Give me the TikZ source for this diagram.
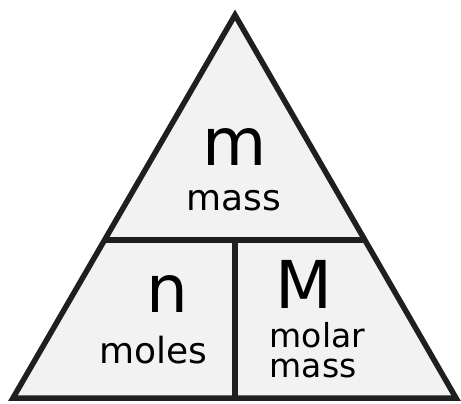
\documentclass[tikz,border=0pt]{standalone}
\usepackage{fontspec}
\setmainfont{DejaVu Sans}
\usetikzlibrary{calc}
\tikzset{
  big/.style={inner sep=0pt, anchor=base, font=\fontsize{66}{66}\selectfont},
  word/.style={inner sep=0pt, anchor=base, font=\fontsize{36}{36}\selectfont},
  smallword/.style={inner sep=0pt, anchor=base west, font=\fontsize{33}{33}\selectfont}
}
\begin{document}
\begin{tikzpicture}[x=1pt, y=-1pt, line width=5.5pt]
\useasboundingbox (0,0) rectangle (461,404);
\coordinate (top) at (235,15); \coordinate (bl) at (13,398); \coordinate (br) at (456,398);
\coordinate (hl) at ($(top)!0.5875!(bl)$); \coordinate (hr) at ($(top)!0.5875!(br)$);
\coordinate (mid) at (235,240); \coordinate (bot) at (235,398);
\filldraw[fill=black!5, draw=black!88] (top) -- (bl) -- (br) -- cycle;
\draw[black!88] (hl) -- (hr);
\draw[black!88] (mid) -- (bot);
\node[big] (m) at (235,165) {m}; \node[word] (mass) at (234,210) {mass};
\node[big] (n) at (167,312) {n}; \node[word] (moles) at (153,363) {moles};
\node[big] (M) at (304,308) {M};
\node[smallword] (molar) at (267,347) {molar}; \node[smallword] (mass2) at (267,377) {mass};
\end{tikzpicture}
\end{document}
